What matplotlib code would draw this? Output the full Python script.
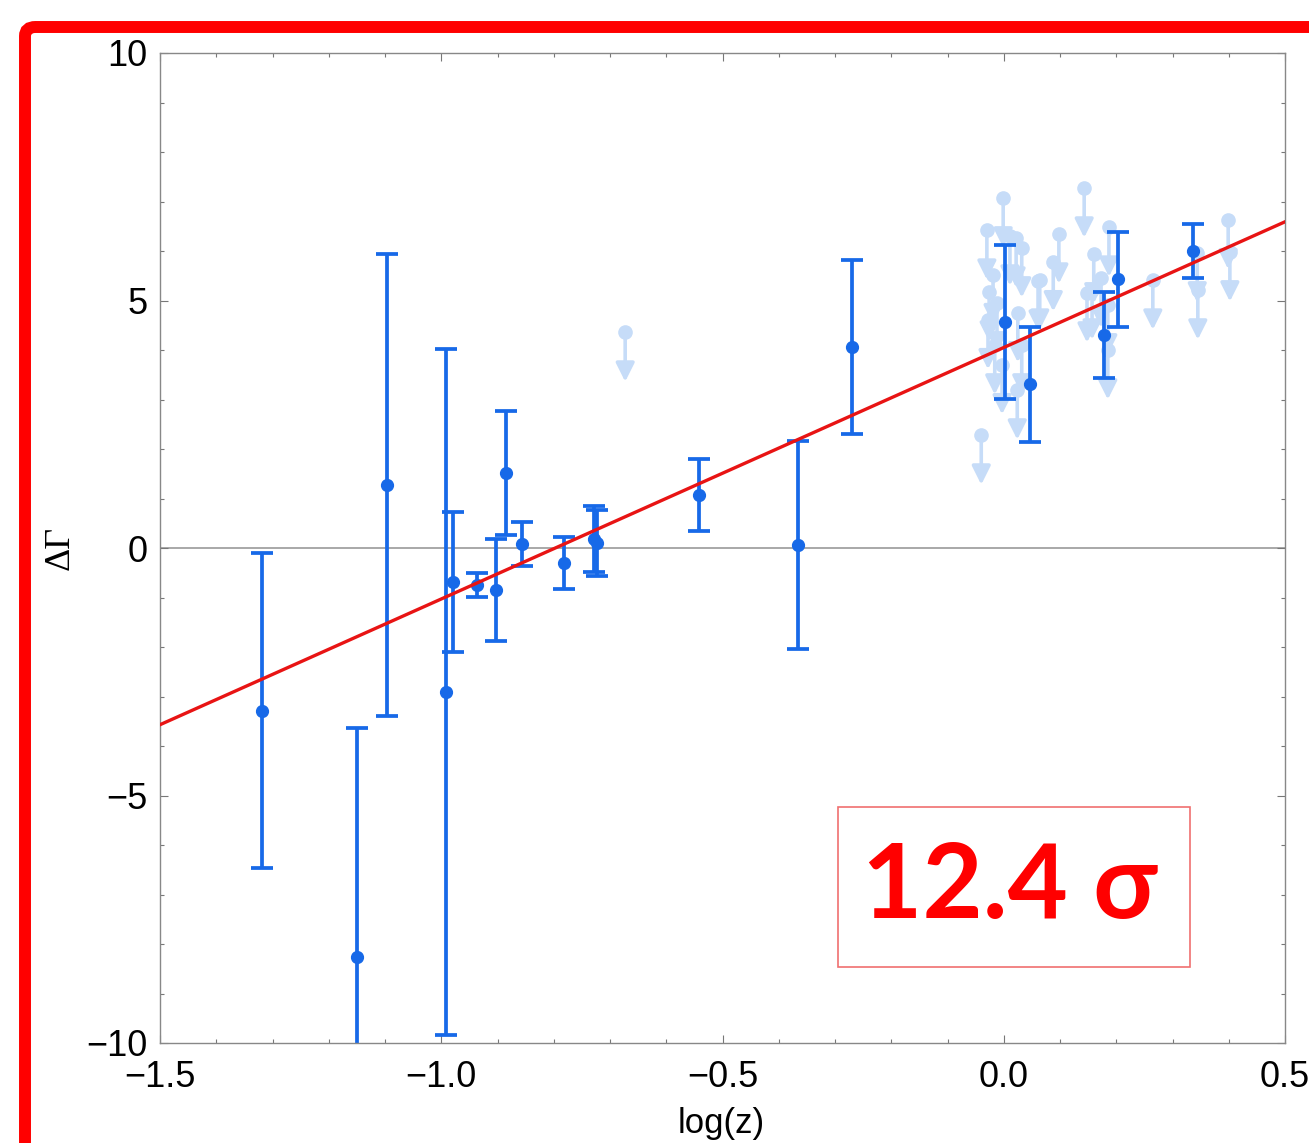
import matplotlib
matplotlib.use("Agg")
import matplotlib.pyplot as plt
import numpy as np
from matplotlib.patches import FancyBboxPatch, Rectangle
from matplotlib.ticker import MultipleLocator

# detections with error bars
dark_x = [-1.319, -1.150, -1.096, -0.992, -0.979, -0.936, -0.903, -0.885, -0.856, -0.782,
          -0.728, -0.723, -0.542, -0.366, -0.270, 0.002, 0.047, 0.178, 0.203, 0.336]
dark_y = [-3.29, -8.26, 1.27, -2.91, -0.69, -0.75, -0.85, 1.52, 0.08, -0.30,
          0.18, 0.10, 1.07, 0.06, 4.06, 4.57, 3.31, 4.30, 5.43, 6.00]
dark_err = [3.18, 4.62, 4.66, 6.93, 1.42, 0.24, 1.03, 1.25, 0.45, 0.53,
            0.67, 0.66, 0.72, 2.10, 1.75, 1.55, 1.16, 0.87, 0.96, 0.54]

# upper limits (light arrows)
ul_x = [-0.673, -0.040, -0.030, -0.001, 0.011, 0.022, 0.032, 0.061, 0.088, 0.098,
        0.143, 0.160, 0.187, 0.148, 0.157, 0.173, 0.265, 0.399, 0.402, 0.344,
        0.345, 0.185, 0.185, -0.019, -0.026, -0.012, 0.025, 0.064, -0.003, 0.024,
        0.032, -0.028, -0.016]
ul_y = [4.36, 2.28, 6.42, 7.07, 6.30, 6.26, 6.06, 5.39, 5.78, 6.34,
        7.27, 5.94, 6.48, 5.15, 5.21, 5.45, 5.41, 6.63, 5.98, 5.96,
        5.21, 4.91, 4.00, 5.52, 5.17, 4.95, 4.75, 5.41, 3.70, 3.19,
        4.10, 4.61, 4.10]
ul_len = 1.0

# linear fit
fit_slope = 5.08
fit_intercept = 4.05
significance = "12.4 σ"

dark_col = '#1769e8'
light_col = '#c6dcf8'

fig = plt.figure(figsize=(13.09, 11.43), dpi=100)
ax = fig.add_axes([160/1309, 1-1043/1143, 1125/1309, 990/1143])

ax.axhline(0, color='#999999', lw=1.2, zorder=0)

# upper limits
for x, y in zip(ul_x, ul_y):
    ax.annotate('', xy=(x, y - ul_len), xytext=(x, y),
                arrowprops=dict(arrowstyle='-|>', color=light_col, lw=2.6,
                                mutation_scale=28, shrinkA=0, shrinkB=0),
                zorder=1)
ax.plot(ul_x, ul_y, 'o', color=light_col, ms=9.5, zorder=1)

ax.errorbar(dark_x, dark_y, yerr=dark_err, fmt='o', color=dark_col, ms=8.5,
            elinewidth=2.7, capsize=8, capthick=2.7, zorder=2)

xs = np.array([-1.5, 0.5])
ax.plot(xs, fit_intercept + fit_slope * xs, color='#e81414', lw=2.4, zorder=3)

ax.set_xlim(-1.5, 0.5)
ax.set_ylim(-10, 10)
ax.xaxis.set_major_locator(MultipleLocator(0.5))
ax.xaxis.set_minor_locator(MultipleLocator(0.1))
ax.yaxis.set_major_locator(MultipleLocator(5))
ax.yaxis.set_minor_locator(MultipleLocator(1))
ax.xaxis.set_major_formatter(plt.FuncFormatter(lambda v, p: ('%.1f' % v).replace('-', '\u2212')))
ax.yaxis.set_major_formatter(plt.FuncFormatter(lambda v, p: ('%d' % v).replace('-', '\u2212')))
ax.tick_params(which='both', direction='in', top=True, right=True, color='#777777', width=0.8)
ax.tick_params(which='major', length=6, labelsize=26)
ax.tick_params(axis='y', which='major', pad=9)
ax.tick_params(axis='x', which='major', pad=12)
ax.tick_params(which='minor', length=3)
for lab in ax.get_xticklabels() + ax.get_yticklabels():
    lab.set_family('Liberation Sans')
for sp in ax.spines.values():
    sp.set_color('#888888')
    sp.set_linewidth(1.0)

ax.add_patch(Rectangle((0.6027, 0.0768), 0.3129, 0.1616, transform=ax.transAxes,
                       fill=False, ec='#f07070', lw=1.2, zorder=4))
ax.text(0.7556, 0.1566, significance, transform=ax.transAxes, ha='center', va='center',
        color='#ff0000', fontsize=75, fontweight='bold', family=['Lato', 'DejaVu Sans'], zorder=5)

fig.text(60/1309, 1-548/1143, 'ΔΓ', rotation=90, ha='center', va='center',
         fontsize=26, family='Liberation Serif')
fig.text(721/1309, 1-1123/1143, 'log(z)', ha='center', va='center',
         fontsize=25, family='Liberation Sans')

# red slide frame
fig.patches.append(FancyBboxPatch((25/1309, -0.1), 1.2, 1-27/1143 + 0.1,
                                  boxstyle='round,pad=0,rounding_size=0.008',
                                  transform=fig.transFigure, fill=False,
                                  ec='#ff0000', lw=8.6, figure=fig))

fig.savefig('out.png', dpi=100)
